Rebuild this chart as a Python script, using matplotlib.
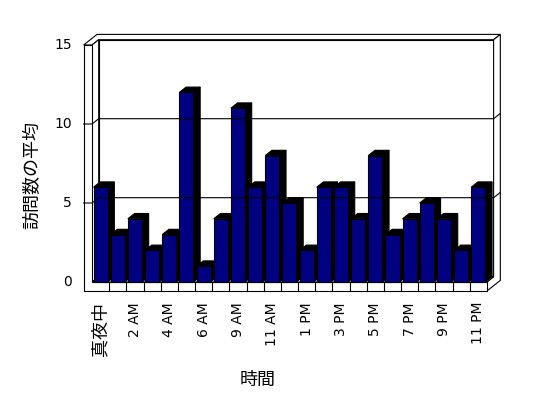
import matplotlib
matplotlib.use('Agg')
import matplotlib.pyplot as plt
from matplotlib.patches import Polygon

plt.rcParams['font.family'] = ['DejaVu Sans', 'Noto Sans CJK JP']

# data
hours = ['真夜中', '1 AM', '2 AM', '3 AM', '4 AM', '5 AM', '6 AM', '8 AM',
         '9 AM', '10 AM', '11 AM', '正午', '1 PM', '2 PM', '3 PM', '4 PM',
         '5 PM', '6 PM', '7 PM', '8 PM', '9 PM', '10 PM', '11 PM']
visits = [6, 3, 4, 2, 3, 12, 1, 4, 11, 6, 8, 5, 2, 6, 6, 4, 8, 3, 4, 5, 4, 2, 6]
y_ticks = [0, 5, 10, 15]
x_title = '時間'
y_title = '訪問数の平均'

# layout, in pixels of the 548x398 picture
W, H = 548, 398
front_x0 = 92.0      # left end of the first category on the front plane
cat_w = 17.17        # pixels per category
zero_y = 282.0       # value 0 on the front plane
unit_h = 15.8        # pixels per value unit
depth_px = (6.7, 5.3)
wall_px = 8.4
floor_px = 9.0
bar_w = 0.82

n = len(visits)
ymax = y_ticks[-1]
dx = depth_px[0] / cat_w
dy = depth_px[1] / unit_h
t = wall_px / cat_w
f = floor_px / unit_h

fig = plt.figure(figsize=(W / 100, H / 100), dpi=100)
ax = fig.add_axes([0, 0, 1, 1])
ax.set_xlim(-front_x0 / cat_w, (W - front_x0) / cat_w)
ax.set_ylim((zero_y - H) / unit_h, zero_y / unit_h)
ax.axis('off')


def P(x, y, z):
    return (x + z * dx, y + z * dy)


def face(pts, fc):
    ax.add_patch(Polygon([P(*p) for p in pts], closed=True, fc=fc,
                         ec='black', lw=0.8, joinstyle='miter'))


def line(pts):
    xs, ys = zip(*[P(*p) for p in pts])
    ax.plot(xs, ys, color='black', lw=0.8, solid_joinstyle='miter')


# walls and floor
face([(0, 0, 1), (n, 0, 1), (n, ymax, 1), (0, ymax, 1)], 'white')
face([(-t, ymax, 0), (0, ymax, 0), (0, ymax, 1), (n, ymax, 1),
      (n, ymax, 2), (-t, ymax, 2)], 'white')
face([(n, -f, 0), (n, 0, 0), (n, 0, 1), (n, ymax, 1),
      (n, ymax, 2), (n, -f, 2)], 'white')
face([(0, 0, 0), (0, 0, 1), (0, ymax, 1), (0, ymax, 0)], 'white')
face([(0, 0, 0), (n, 0, 0), (n, 0, 1), (0, 0, 1)], 'white')
face([(-t, -f, 0), (n, -f, 0), (n, 0, 0), (0, 0, 0),
      (0, ymax, 0), (-t, ymax, 0)], 'white')

for v in y_ticks[1:-1]:
    line([(-t, v, 0), (0, v, 0), (0, v, 1), (n, v, 1), (n, v, 2)])

for i in range(1, n):
    line([(i, -f, 0), (i, 0, 0)])

# bars
for i, v in enumerate(visits):
    x0 = i + (1 - bar_w) / 2
    x1 = x0 + bar_w
    face([(x0, v, 0), (x1, v, 0), (x1, v, 1), (x0, v, 1)], 'black')
    face([(x1, 0, 0), (x1, v, 0), (x1, v, 1), (x1, 0, 1)], 'black')
    face([(x0, 0, 0), (x1, 0, 0), (x1, v, 0), (x0, v, 0)], '#000080')

# tick labels
for v in y_ticks:
    ax.annotate(str(v), xy=P(-t, v, 0), xytext=(-12, 0),
                textcoords='offset pixels', ha='right', va='center',
                fontsize=10)

for i in range(0, n, 2):
    label = hours[i]
    size = 13 if label == '真夜中' else 10
    ax.annotate(label, xy=P(i + 0.5, -f, 0), xytext=(0, -11),
                textcoords='offset pixels', rotation=90, ha='center',
                va='top', fontsize=size)

fig.text(258 / W, 1 - 380 / H, x_title, ha='center', va='center', fontsize=13)
fig.text(32 / W, 1 - 175 / H, y_title, rotation=90, ha='center',
         va='center', fontsize=13)

fig.savefig('out.png', dpi=100, facecolor='white')
